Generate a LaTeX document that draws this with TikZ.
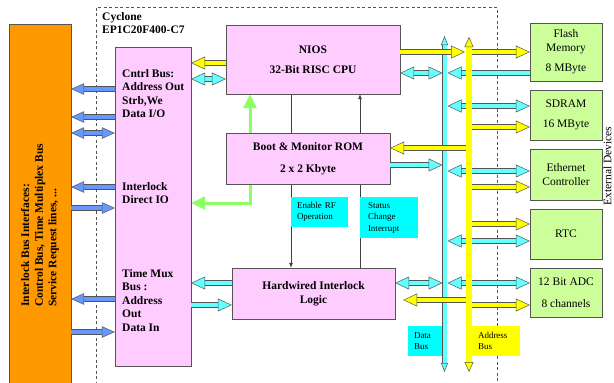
\documentclass[tikz,border=0pt]{standalone}
\usepackage{fontspec}
\setmainfont{Liberation Serif}
\usetikzlibrary{arrows.meta,backgrounds}

\definecolor{pinkbox}{RGB}{255,204,255}
\definecolor{ifcorange}{RGB}{255,153,0}
\definecolor{devgreen}{RGB}{204,255,153}
\definecolor{busyellow}{RGB}{255,255,0}
\definecolor{buscyan}{RGB}{102,255,255}
\definecolor{lblcyan}{RGB}{0,255,255}
\definecolor{ioblue}{RGB}{102,153,255}
\definecolor{bootgreen}{RGB}{140,255,100}
\definecolor{edgegray}{RGB}{85,85,85}

\begin{document}
\begin{tikzpicture}[
        x=1pt, y=-1pt,
        every node/.style={font=\fontsize{11.5}{13.6}\selectfont},
        blk/.style={
            rectangle,
            draw=edgegray,
            fill=pinkbox,
            align=center,
            inner sep=0pt,
            font=\bfseries\fontsize{11.5}{13.6}\selectfont
        },
        txt/.style={
            align=left,
            anchor=north west,
            inner sep=0pt,
            font=\bfseries\fontsize{11.5}{13.6}\selectfont
        },
        dev/.style={
            rectangle,
            draw=edgegray,
            fill=devgreen,
            minimum width=72pt,
            align=center,
            inner sep=0pt
        },
        lbl/.style={
            rectangle,
            align=left,
            inner sep=0pt,
            font=\fontsize{9}{11.5}\selectfont
        },
        barr/.style={
            draw=edgegray,
            line width=.5pt,
            double=#1,
            double distance=4.5pt,
            >={Triangle[length=14pt,width=13pt,fill=#1,line width=.5pt]}
        },
        iarr/.style={
            barr=#1,
            >={Triangle[length=13pt,width=11.5pt,fill=#1,line width=.5pt]}
        },
        bus/.style={
            draw=edgegray,
            line width=.5pt,
            double=#1
        },
        gline/.style={
            draw=bootgreen,
            line width=3pt,
            >={Triangle[length=14pt,width=13pt]}
        },
        sig/.style={
            draw=black!75,
            line width=.6pt,
            >={Latex[length=5pt,width=4pt]}
        }
    ]
    \useasboundingbox (0,0) rectangle (614,383);

    % Cyclone frame
    \draw[edgegray, dash pattern=on 3pt off 2.5pt] (96,390) |- (497,7) -- (497,390);
    \node[txt] (cyc) at (102,12) {Cyclone\\EP1C20F400-C7};

    % interlock bus side
    \node[rectangle, draw=edgegray, fill=ifcorange, minimum width=62pt, minimum height=376pt, inner sep=0pt] (ifc) at (40,212) {};
    \node[rotate=90, anchor=west, align=left, inner sep=0pt, font=\bfseries\fontsize{11.5}{13.6}\selectfont] (ifctxt) at (40,307) {Interlock Bus Interfaces:\\Control Bus, Time Multiplex Bus\\Service Request lines, ...};

    \node[blk, minimum width=76pt, minimum height=319pt] (ctl) at (153,206.5) {};
    \node[txt] (ctlbus) at (122,69) {Cntrl Bus:\\Address Out\\Strb,We\\Data I/O};
    \node[txt] (ctldio) at (122,182) {Interlock\\Direct IO};
    \node[txt] (ctlmux) at (122,269) {Time Mux\\Bus :\\Address\\Out\\Data In};

    % FPGA blocks
    \node[blk, minimum width=174pt, minimum height=69pt, font=\bfseries\fontsize{11.5}{20}\selectfont] (nios) at (313,59.5) {NIOS\\32-Bit RISC CPU};
    \node[blk, minimum width=164pt, minimum height=51pt, font=\bfseries\fontsize{11.5}{22}\selectfont] (rom) at (308,158.5) {Boot \& Monitor ROM\\2 x 2 Kbyte};
    \node[blk, minimum width=163pt, minimum height=51pt] (hil) at (313.5,293.5) {Hardwired Interlock\\Logic};
    \node[lbl, fill=lblcyan, minimum width=57pt, minimum height=30pt, text width=45pt] (enrf) at (319.5,212) {Enable RF\\Operation};
    \node[lbl, fill=lblcyan, minimum width=58pt, minimum height=41pt, text width=42pt] (stci) at (389,217.5) {Status\\Change\\Interrupt};

    % external devices
    \node[dev, minimum height=58pt] (flash) at (566,52) {Flash\\Memory\\[7pt]8 MByte};
    \node[dev, minimum height=50pt] (sdram) at (566,115) {SDRAM\\[6.4pt]16 MByte};
    \node[dev, minimum height=51pt] (eth) at (566,174.5) {Ethernet\\Controller};
    \node[dev, minimum height=50pt] (rtc) at (566,234) {RTC};
    \node[dev, minimum height=49pt] (adc) at (566,292.5) {12 Bit ADC\\[8.4pt]8 channels};
    \node[rotate=90, inner sep=0pt] (extdev) at (607.5,166) {External Devices};

    % buses
    \coordinate (dtop) at (444.5,36);
    \coordinate (dbot) at (444.5,372);
    \coordinate (atop) at (469,37);
    \coordinate (abot) at (469,372);
    \node[lbl, fill=lblcyan, minimum width=36pt, minimum height=30pt, text width=24pt] (dlbl) at (426,341) {Data\\Bus};
    \node[lbl, fill=busyellow, minimum width=49pt, minimum height=30pt, text width=35pt] (albl) at (495.5,341) {Address\\Bus};

    % data lines
    \draw[barr=buscyan,<->] (nios.west |- 0,79) -- (ctl.east |- 0,79);
    \draw[barr=buscyan,->] (hil.west |- 0,283) -- (ctl.east |- 0,283);
    \draw[barr=buscyan,->] (ctl.east |- 0,305) -- (hil.west |- 0,305);
    \draw[barr=buscyan,<->,shorten >=2pt] (nios.east |- 0,73) -- (dtop |- 0,73);
    \draw[barr=buscyan,->,shorten >=2pt] (rom.east |- 0,165) -- (dtop |- 0,165);
    \draw[barr=buscyan,<->,shorten >=2pt] (hil.east |- 0,283) -- (dtop |- 0,283);
    \draw[barr=buscyan,->,shorten >=3pt] (flash.west |- 0,73) -- (dtop |- 0,73);
    \draw[barr=buscyan,<->,shorten <=3pt] (dtop |- 0,106) -- (sdram.west |- 0,106);
    \draw[barr=buscyan,<->,shorten <=3pt] (dtop |- 0,171) -- (eth.west |- 0,171);
    \draw[barr=buscyan,<->,shorten <=3pt] (dtop |- 0,241) -- (rtc.west |- 0,241);
    \draw[barr=buscyan,<->,shorten <=3pt] (dtop |- 0,283) -- (adc.west |- 0,283);
    \draw[bus=buscyan, double distance=4pt, >={Triangle[length=9pt,width=7pt,fill=buscyan,line width=.5pt]}, <->] (dbot) -- (dtop);

    % address lines
    \draw[barr=busyellow,->] (nios.west |- 0,63) -- (ctl.east |- 0,63);
    \draw[barr=busyellow,->,shorten >=4pt] (nios.east |- 0,52) -- (atop |- 0,52);
    \draw[barr=busyellow,->] (atop |- 0,148) -- (rom.east |- 0,148);
    \draw[barr=busyellow,->,shorten >=8pt] (atop |- 0,300) -- (hil.east |- 0,300);
    \draw[barr=busyellow,->] (atop |- 0,52) -- (flash.west |- 0,52);
    \draw[barr=busyellow,->] (atop |- 0,127) -- (sdram.west |- 0,127);
    \draw[barr=busyellow,->] (atop |- 0,187) -- (eth.west |- 0,187);
    \draw[barr=busyellow,->] (atop |- 0,224) -- (rtc.west |- 0,224);
    \draw[barr=busyellow,->] (atop |- 0,305) -- (adc.west |- 0,305);
    \draw[bus=busyellow, double distance=5.5pt, >={Triangle[length=10pt,width=9pt,fill=busyellow,line width=.5pt]}, <->] (abot) -- (atop);

    % interlock I/O
    \draw[iarr=ioblue,->] (ctl.west |- 0,89) -- (ifc.east |- 0,89);
    \draw[iarr=ioblue,->] (ctl.west |- 0,117) -- (ifc.east |- 0,117);
    \draw[iarr=ioblue,<->] (ctl.west |- 0,133) -- (ifc.east |- 0,133);
    \draw[iarr=ioblue,->] (ctl.west |- 0,187) -- (ifc.east |- 0,187);
    \draw[iarr=ioblue,<-] (ctl.west |- 0,208) -- (ifc.east |- 0,208);
    \draw[iarr=ioblue,->] (ctl.west |- 0,299) -- (ifc.east |- 0,299);
    \draw[iarr=ioblue,<-] (ctl.west |- 0,332) -- (ifc.east |- 0,332);

    % control signals behind the boxes
    \begin{scope}[on background layer]
        \fill[white] (0,0) rectangle (614,383);
        \draw[sig,->] ([xshift=-22pt]nios.south) -- ([xshift=-22pt]nios.south |- hil.north);
        \draw[sig,->] ([xshift=47pt]nios.south |- hil.north) -- ([xshift=47pt]nios.south);
        \draw[gline,<->] (ctl.east |- 0,203) -| ([xshift=-63pt]nios.south);
    \end{scope}
\end{tikzpicture}
\end{document}
